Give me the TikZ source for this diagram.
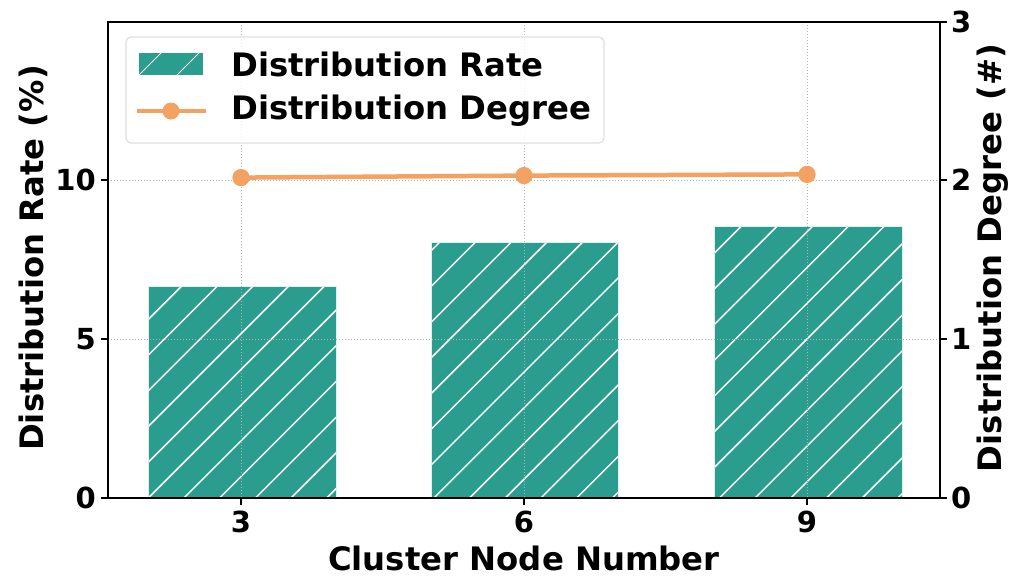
\documentclass[tikz,border=0pt]{standalone}
\usepackage{fontspec}
\setmainfont{DejaVu Sans}
\usetikzlibrary{fit}
\definecolor{barteal}{HTML}{2A9D8F}
\definecolor{lineorange}{HTML}{F4A261}
\tikzset{
  spine/.style={line width=1.4pt, black},
  gridline/.style={gray!60, line width=0.9pt, dash pattern=on 1.2pt off 1.8pt},
  hatchline/.style={white, line width=1.5pt},
  degline/.style={lineorange, line width=4.5pt},
  degmark/.style={circle, fill=lineorange, inner sep=0pt, minimum size=17pt},
  ticklab/.style={font=\bfseries\fontsize{29}{29}\selectfont, inner sep=0pt},
  axlab/.style={font=\bfseries\fontsize{32.3}{32.3}\selectfont, inner sep=0pt},
  leglab/.style={font=\bfseries\fontsize{32.3}{32.3}\selectfont, inner sep=0pt, anchor=west},
}
\begin{document}
\begin{tikzpicture}[x=1pt, y=-1pt]
\useasboundingbox (0,0) rectangle (1012,576);

% bars with diagonal hatching
\foreach \name/\l/\r/\t in {b3/148/336/286, b6/431/618/242, b9/714/902/226}{
  \fill[barteal] (\l,\t) rectangle (\r,498);
  \begin{scope}
    \clip (\l,\t) rectangle (\r,498);
    \foreach \k in {-20,...,40}{
      \pgfmathsetmacro{\c}{467.7+35.7*\k}
      \draw[hatchline] (\c-498,498) -- (\c-\t,\t);
    }
  \end{scope}
  \node[draw=white!85!barteal, line width=0.9pt, inner sep=0pt, fit={(\l,\t)(\r,498)}] (\name) {};
}

% grid
\foreach \x in {241,524,807} \draw[gridline] (\x,22) -- (\x,498);
\foreach \y in {180,339} \draw[gridline] (108,\y) -- (940,\y);

% distribution degree line
\node[degmark] (p3) at (241,177.6) {};
\node[degmark] (p6) at (524,175.6) {};
\node[degmark] (p9) at (807,174.4) {};
\draw[degline] (p3.center) -- (p6.center) -- (p9.center);
\node[degmark] at (p3) {};
\node[degmark] at (p6) {};
\node[degmark] at (p9) {};

% frame
\draw[spine] (108,22) rectangle (940,498);

% left ticks
\foreach \y/\v in {498/0,339/5,180/10}{
  \draw[spine] (101,\y) -- (108,\y);
  \node[ticklab, anchor=east] at (96,\y) {\v};
}
% right ticks
\foreach \y/\v in {498/0,339/1,180/2,22/3}{
  \draw[spine] (940,\y) -- (947,\y);
  \node[ticklab, anchor=west] at (951,\y) {\v};
}
% bottom ticks
\foreach \x/\v in {241/3,524/6,807/9}{
  \draw[spine] (\x,498) -- (\x,505);
  \node[ticklab, anchor=north] at (\x,511) {\v};
}

% axis labels
\node[axlab, rotate=90] (ylab) at (33,258) {Distribution Rate (\%)};
\node[axlab, rotate=90] (y2lab) at (993,258) {Distribution Degree (\#)};
\node[axlab] (xlab) at (524,558) {Cluster Node Number};

% legend
\draw[gray!25, line width=1.2pt, fill=white, fill opacity=0.8, rounded corners=5pt] (126,37) rectangle (604,143);
\fill[barteal] (139,53) rectangle (203,75);
\begin{scope}
  \clip (139,53) rectangle (203,75);
  \draw[hatchline, line width=1pt] (139,75) -- (161,53);
  \draw[hatchline, line width=1pt] (177,75) -- (199,53);
\end{scope}
\draw[degline] (137,111) -- (206,111);
\node[degmark] (legmark) at (171,111) {};
\node[leglab] (leg1) at (231,64) {Distribution Rate};
\node[leglab] (leg2) at (231,111) {Distribution Degree};
\end{tikzpicture}
\end{document}
